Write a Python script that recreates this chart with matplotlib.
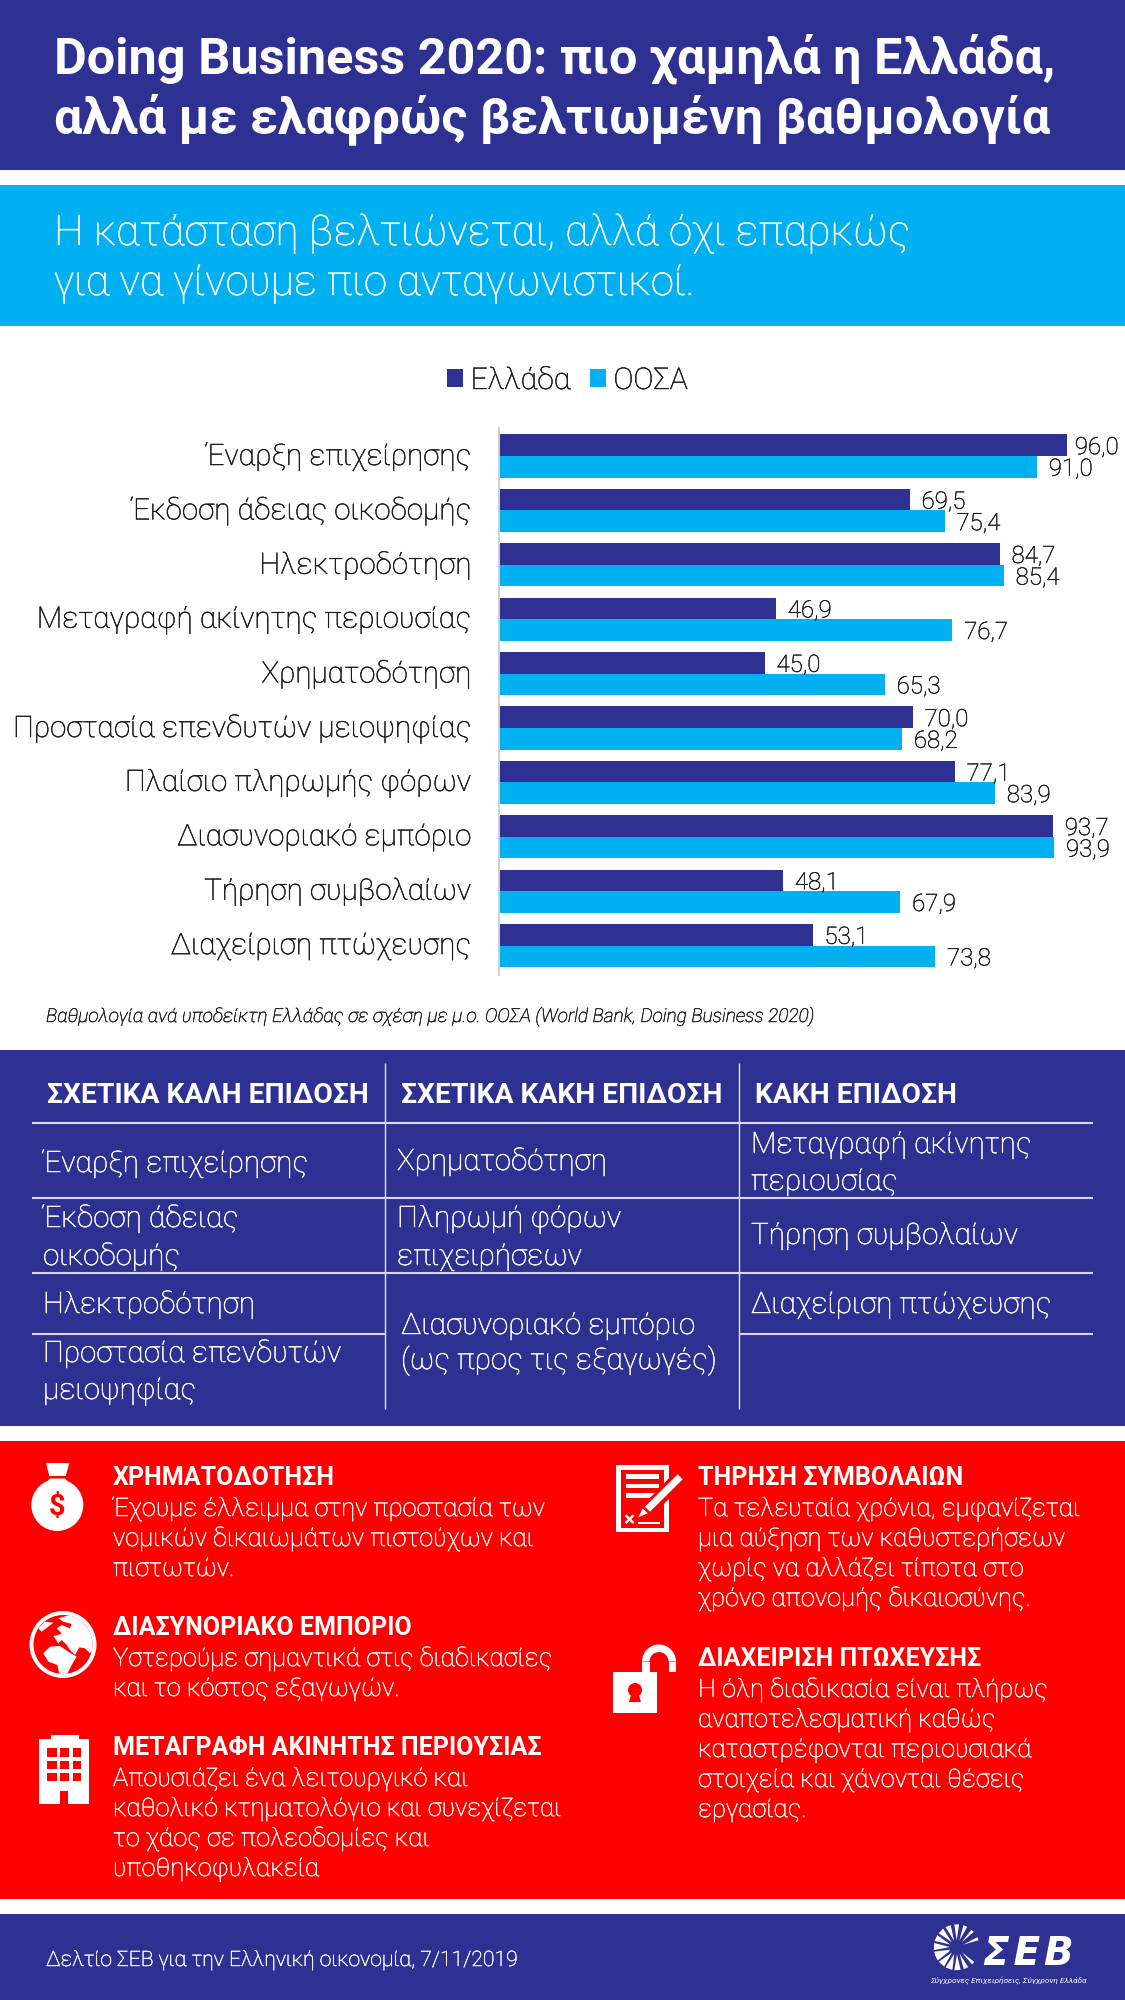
import numpy as np
import matplotlib
matplotlib.use('Agg')
import matplotlib.pyplot as plt
import matplotlib.patheffects as pe
from matplotlib.patches import Rectangle, Circle, Polygon, Wedge
from matplotlib.transforms import ScaledTranslation

# Data
categories = ['Έναρξη επιχείρησης', 'Έκδοση άδειας οικοδομής', 'Ηλεκτροδότηση',
              'Μεταγραφή ακίνητης περιουσίας', 'Χρηματοδότηση',
              'Προστασία επενδυτών μειοψηφίας', 'Πλαίσιο πληρωμής φόρων',
              'Διασυνοριακό εμπόριο', 'Τήρηση συμβολαίων', 'Διαχείριση πτώχευσης']
greece = [96.0, 69.5, 84.7, 46.9, 45.0, 70.0, 77.1, 93.7, 48.1, 53.1]
oecd = [91.0, 75.4, 85.4, 76.7, 65.3, 68.2, 83.9, 93.9, 67.9, 73.8]

title_lines = ['Doing Business 2020: πιο χαμηλά η Ελλάδα,',
               'αλλά με ελαφρώς βελτιωμένη βαθμολογία']
subtitle_lines = ['Η κατάσταση βελτιώνεται, αλλά όχι επαρκώς',
                  'για να γίνουμε πιο ανταγωνιστικοί.']
caption = 'Βαθμολογία ανά υποδείκτη Ελλάδας σε σχέση με μ.ο. ΟΟΣΑ (World Bank, Doing Business 2020)'
table_headers = ['ΣΧΕΤΙΚΑ ΚΑΛΗ ΕΠΙΔΟΣΗ', 'ΣΧΕΤΙΚΑ ΚΑΚΗ ΕΠΙΔΟΣΗ', 'ΚΑΚΗ ΕΠΙΔΟΣΗ']
table_col1 = [('Έναρξη επιχείρησης', 1172), ('Έκδοση άδειας', 1227), ('οικοδομής', 1265),
              ('Ηλεκτροδότηση', 1313), ('Προστασία επενδυτών', 1362), ('μειοψηφίας', 1399)]
table_col2 = [('Χρηματοδότηση', 1170), ('Πληρωμή φόρων', 1227), ('επιχειρήσεων', 1265)]
table_col2b = [('Διασυνοριακό εμπόριο', 1334), ('(ως προς τις εξαγωγές)', 1369)]
table_col3 = [('Μεταγραφή ακίνητης', 1153), ('περιουσίας', 1190),
              ('Τήρηση συμβολαίων', 1244), ('Διαχείριση πτώχευσης', 1313)]
notes_left = [('ΧΡΗΜΑΤΟΔΟΤΗΣΗ', 1485, ['Έχουμε έλλειμμα στην προστασία των',
                                       'νομικών δικαιωμάτων πιστούχων και', 'πιστωτών.']),
              ('ΔΙΑΣΥΝΟΡΙΑΚΟ ΕΜΠΟΡΙΟ', 1635, ['Υστερούμε σημαντικά στις διαδικασίες',
                                              'και το κόστος εξαγωγών.']),
              ('ΜΕΤΑΓΡΑΦΗ ΑΚΙΝΗΤΗΣ ΠΕΡΙΟΥΣΙΑΣ', 1755, ['Απουσιάζει ένα λειτουργικό και',
                                                       'καθολικό κτηματολόγιο και συνεχίζεται',
                                                       'το χάος σε πολεοδομίες και',
                                                       'υποθηκοφυλακεία'])]
notes_right = [('ΤΗΡΗΣΗ ΣΥΜΒΟΛΑΙΩΝ', 1485, ['Τα τελευταία χρόνια, εμφανίζεται',
                                            'μια αύξηση των καθυστερήσεων',
                                            'χωρίς να αλλάζει τίποτα στο',
                                            'χρόνο απονομής δικαιοσύνης.']),
               ('ΔΙΑΧΕΙΡΙΣΗ ΠΤΩΧΕΥΣΗΣ', 1666, ['Η όλη διαδικασία είναι πλήρως',
                                               'αναποτελεσματική καθώς',
                                               'καταστρέφονται περιουσιακά',
                                               'στοιχεία και χάνονται θέσεις',
                                               'εργασίας.'])]

NAVY = '#2E3192'
CYAN = '#00B0F0'
RED = '#FF0000'
INK = '#1A1A1A'
W, H = 1125, 2000
FONT = ['Roboto', 'DejaVu Sans']

fig = plt.figure(figsize=(W / 100, H / 100), dpi=100, facecolor='white')

# Background layer in pixel coordinates
bg = fig.add_axes([0, 0, 1, 1])
bg.set_xlim(0, W)
bg.set_ylim(H, 0)
bg.axis('off')


def thicken(t, color, lw=0.3):
    # Roboto Light renders too faint here, a thin outline brings it closer
    t.set_path_effects([pe.withStroke(linewidth=lw, foreground=color)])


def txt(x, y, s, px, weight='light', color='white', style='normal', ha='left', family=FONT):
    t = bg.text(x, y, s, fontsize=px * 0.72, fontweight=weight, color=color, fontstyle=style,
                family=family, ha=ha, va='baseline')
    if weight == 'light':
        thicken(t, color)
    return t


def box(x0, y0, x1, y1, color, **kw):
    p = Rectangle((x0, y0), x1 - x0, y1 - y0, facecolor=color, edgecolor='none', **kw)
    bg.add_patch(p)
    return p


def poly(pts, color, **kw):
    p = Polygon(pts, closed=True, facecolor=color, edgecolor='none', **kw)
    bg.add_patch(p)
    return p


# Colour bands
box(0, 0, W, 170, NAVY)
box(0, 185, W, 326, CYAN)
box(0, 1050, W, 1426, NAVY)
box(0, 1441, W, 1899, RED)
box(0, 1914, W, H, NAVY)

# Header texts
for s, y in zip(title_lines, [73, 133]):
    txt(54, y, s, 50.4, weight='bold')
for s, y in zip(subtitle_lines, [245, 295]):
    txt(54, y, s, 42.2)

# Bar chart
ax = fig.add_axes([498.5 / W, 1 - 975 / H, 621.5 / W, 547 / H])
ax.patch.set_alpha(0)
ypos = np.arange(len(categories))
bars_gr = ax.barh(ypos - 0.198, greece, height=0.396, color=NAVY, label='Ελλάδα')
bars_oe = ax.barh(ypos + 0.198, oecd, height=0.396, color=CYAN, label='ΟΟΣΑ')
ax.set_xlim(0, 105)
ax.set_ylim(9.54, -0.515)
ax.set_xticks([])
ax.set_yticks(ypos)
ax.set_yticklabels(categories, fontsize=29.6 * 0.72, fontweight='light', family=FONT, color=INK)
ax.tick_params(axis='y', length=0, pad=19.5)
up = ScaledTranslation(0, 2.5 / 100, fig.dpi_scale_trans)
for lab in ax.get_yticklabels():
    lab.set_transform(lab.get_transform() + up)
    thicken(lab, INK)
for side in ['top', 'right', 'bottom']:
    ax.spines[side].set_visible(False)
ax.spines['left'].set_color('#D0D0D0')
ax.spines['left'].set_linewidth(1.4)
for bars, vals in [(bars_gr, greece), (bars_oe, oecd)]:
    anns = ax.bar_label(bars, labels=[f'{v:.1f}'.replace('.', ',') for v in vals], padding=8.4,
                        fontsize=24 * 0.72, fontweight='light', family=FONT, color=INK)
    for a, v in zip(anns, vals):
        # the longest bar has its label pulled in a little
        a.xyann = (5.8 if v == max(greece) else 8.4, -1.8)
        thicken(a, INK)
leg = fig.legend(loc='center', bbox_to_anchor=(567.5 / W, 1 - 381 / H), ncol=2, frameon=False,
                 handlelength=0.54, handleheight=0.54, handletextpad=0.25, columnspacing=0.65,
                 prop={'family': FONT, 'size': 30 * 0.72, 'weight': 'light'})
for t in leg.get_texts():
    t.set_color(INK)
    thicken(t, INK)

txt(46, 1022, caption, 19.1, style='italic', color=INK)

# Table
for x in [385, 739]:
    bg.plot([x, x], [1063, 1409], color='#E8E8F2', lw=1.0, solid_capstyle='butt')
for y in [1123, 1198, 1273]:
    bg.plot([32, 1093], [y, y], color='#D8D8EA', lw=1.5, solid_capstyle='butt')
bg.plot([32, 385], [1334, 1334], color='#D8D8EA', lw=1.5, solid_capstyle='butt')
bg.plot([739, 1093], [1334, 1334], color='#D8D8EA', lw=1.5, solid_capstyle='butt')
for s, x in zip(table_headers, [47, 401, 755]):
    txt(x, 1103, s, 28.2, weight='bold')
for col, x in [(table_col1, 43), (table_col2, 397), (table_col2b, 401), (table_col3, 751)]:
    for s, y in col:
        txt(x, y, s, 29.6)

# Red panel notes
for notes, x in [(notes_left, 113), (notes_right, 698)]:
    for head, y, lines in notes:
        txt(x, y, head, 25, weight='bold')
        for k, line in enumerate(lines):
            txt(x, y + 31 + 30 * k, line, 25.5)

# Icon: money bag
bg.add_patch(Circle((57.3, 1505), 26, facecolor='white', edgecolor='none'))
poly([(46, 1463), (69.3, 1463), (65.7, 1476), (49.3, 1476)], 'white')
poly([(50, 1478.5), (65, 1478.5), (70, 1484), (45, 1484)], 'white')
txt(57.5, 1515, '$', 29, weight='bold', color=RED, ha='center')

# Icon: globe
bg.add_patch(Circle((63, 1644.5), 33.5, facecolor='white', edgecolor='none'))
bg.add_patch(Circle((63, 1644.5), 29.5, facecolor=RED, edgecolor='none'))
clip = Circle((63, 1644.5), 29.5, transform=bg.transData)


def g(pts):
    return [(20 + x / 3, 1600 + y / 3) for x, y in pts]


eurasia = poly(g([(115, 55), (150, 45), (195, 65), (222, 110), (225, 145), (210, 160),
                  (195, 145), (178, 142), (165, 165), (150, 150), (140, 135), (125, 120),
                  (115, 130), (100, 108), (115, 105), (125, 100), (110, 85), (125, 75),
                  (150, 85), (155, 72), (130, 65)]), 'white')
green = poly(g([(75, 65), (100, 68), (85, 80), (65, 95), (55, 85)]), 'white')
africa = poly(g([(70, 160), (90, 140), (120, 138), (145, 155), (170, 170), (155, 195),
                 (140, 225), (120, 230), (112, 195), (85, 185)]), 'white')
for p in (eurasia, green, africa):
    p.set_clip_path(clip)

# Icon: building
box(39, 1739, 89, 1804, 'white')
box(50.5, 1735, 78.5, 1739, 'white')
for wx0, wx1 in [(47, 57), (60, 69), (73, 81)]:
    for wy0, wy1 in [(1748, 1756.5), (1761, 1769), (1773, 1781)]:
        box(wx0, wy0, wx1, wy1, RED)
box(60, 1791, 68, 1804, RED)

# Icon: contract
box(616, 1465, 669, 1532, 'white')
box(620.7, 1470, 664.3, 1528, RED)
for y0, y1 in [(1474, 1479), (1484, 1488), (1493, 1498)]:
    box(626, y0, 659, y1, 'white')
box(638, 1521.7, 660, 1524.3, 'white')
poly([(641, 1507), (677, 1470), (688, 1479.5), (652, 1516), (633, 1522)], RED)
poly([(645, 1506.7), (677.7, 1474.3), (682.7, 1479.3), (650, 1511.7)], 'white')
poly([(638.3, 1517.3), (642.7, 1508.3), (647.7, 1513.3)], 'white')
txt(629, 1526, '×', 21, weight='bold', ha='center')

# Icon: open lock
box(613, 1672, 657, 1713, 'white')
bg.add_patch(Wedge((659, 1661.5), 17, 180, 360, width=7.5, facecolor='white', edgecolor='none'))
box(642, 1661.5, 649.5, 1672, 'white')
box(668.5, 1661.5, 676, 1672, 'white')
bg.add_patch(Circle((635, 1690), 7, facecolor=RED, edgecolor='none'))
poly([(632, 1692), (638, 1692), (641, 1702), (629, 1702)], RED)

# Footer
txt(46, 1966, 'Δελτίο ΣΕΒ για την Ελληνική οικονομία, 7/11/2019', 21.2)
txt(983, 1965, 'Σ\u200aΕ\u200aΒ', 39, weight='bold', style='italic', family=['DejaVu Sans'])
txt(930, 1983, 'Σύγχρονες Επιχειρήσεις, Σύγχρονη Ελλάδα', 8.3, weight='normal', style='italic')
for ang, half in [(-200, 9), (-178, 9), (-156, 8), (-134, 8), (-112, 7), (-90, 6), (-68, 5),
                  (-46, 4), (-22, 4), (44, 4), (66, 6), (88, 8), (110, 9), (132, 9), (154, 9)]:
    a0, a1 = np.radians(ang - half), np.radians(ang + half)
    aa = np.radians(ang)
    poly([(956.7 + 7 * np.cos(aa), 1947.3 + 7 * np.sin(aa)),
          (956.7 + 23 * np.cos(a0), 1947.3 + 23 * np.sin(a0)),
          (956.7 + 23 * np.cos(a1), 1947.3 + 23 * np.sin(a1))], 'white')

fig.savefig('out.png', dpi=100, facecolor='white')
